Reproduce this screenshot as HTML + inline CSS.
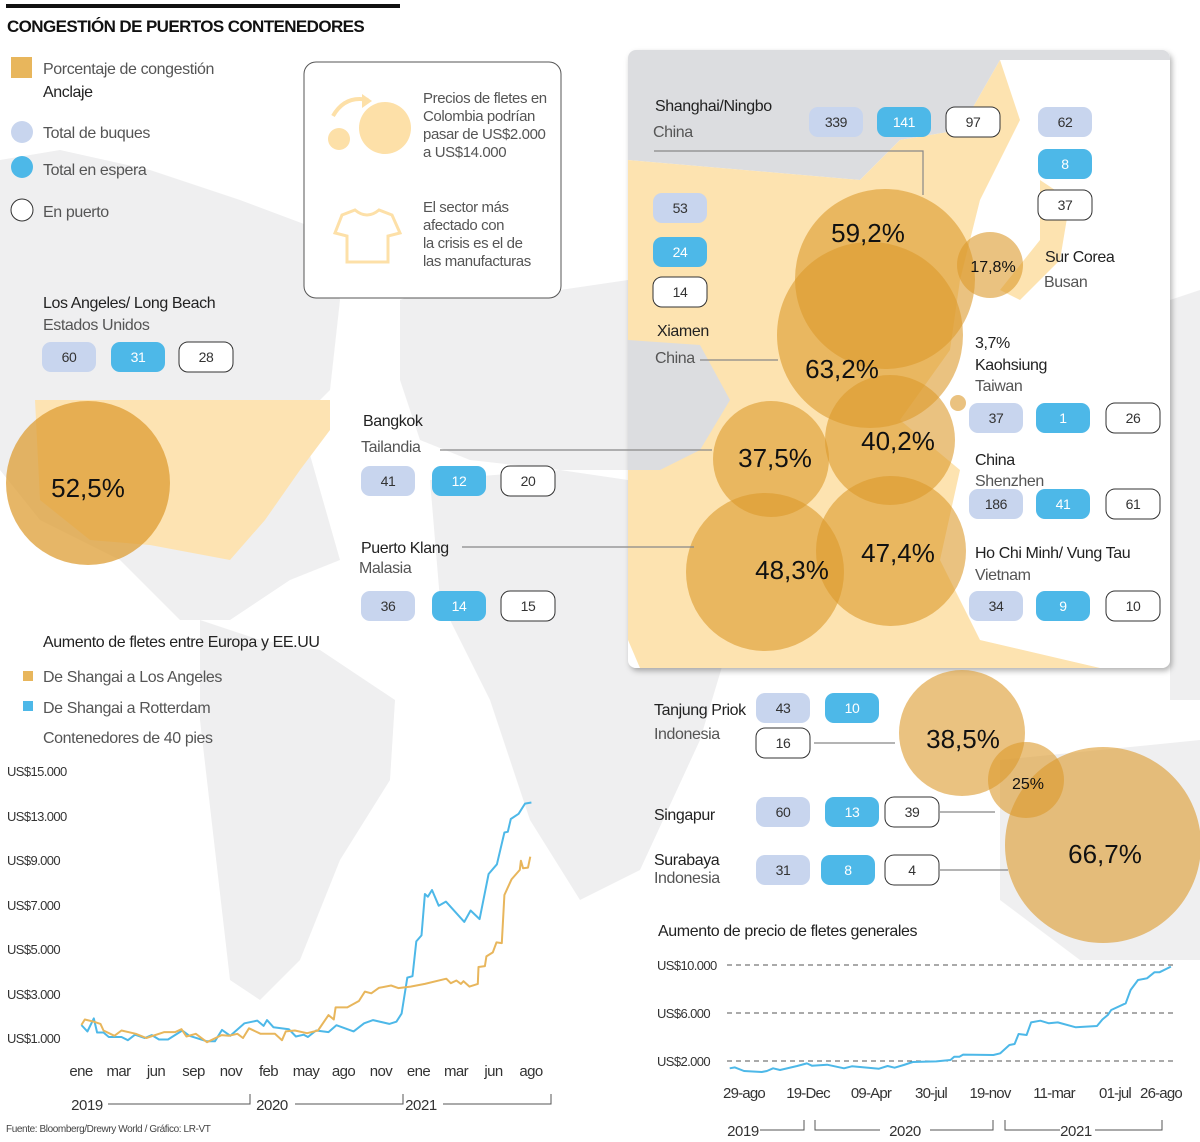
<!DOCTYPE html>
<html><head><meta charset="utf-8">
<style>
html,body{margin:0;padding:0;background:#fff;}
svg{display:block;}
text{font-family:"Liberation Sans",sans-serif;letter-spacing:-0.4px;}
.t{font-size:16px;fill:#222;}
.s{font-size:16px;fill:#555;}
.pct{font-family:"Liberation Sans",sans-serif;font-size:26px;fill:#111;letter-spacing:0;}
.bt{font-size:14px;text-anchor:middle;}
.ax{font-size:13px;fill:#333;letter-spacing:-0.6px;}
</style></head>
<body>
<svg id="svg" width="1200" height="1142" viewBox="0 0 1200 1142" xmlns="http://www.w3.org/2000/svg">
<g fill="#efeff0">
  <path d="M0,160 L60,150 L150,170 L240,200 L320,230 L340,300 L330,390 L300,420 L340,560 L290,580 L230,620 L180,620 L120,560 L40,520 L0,470 Z"/>
  <path d="M200,620 L260,640 L320,650 L395,700 L390,780 L340,860 L300,960 L260,1000 L230,980 L215,850 L200,720 Z"/>
  <path d="M400,300 L480,270 L560,290 L628,280 L628,470 L560,470 L470,460 L420,440 L400,380 Z"/>
  <path d="M430,480 L560,470 L628,480 L700,540 L730,640 L700,740 L640,870 L580,900 L530,820 L490,700 L440,600 Z"/>
  <path d="M1000,760 L1200,740 L1200,960 L1080,960 L1000,900 Z"/>
  <path d="M1170,300 L1200,290 L1200,700 L1170,700 Z"/>
</g>
<path d="M35,400 L330,400 L330,430 L300,470 L265,520 L230,560 L150,545 L90,540 L40,500 Z" fill="#fde3b2"/>

<rect x="6" y="4" width="394" height="4" fill="#111"/>
<text x="7" y="32" style="font-family:'Liberation Sans',sans-serif;font-size:17px;font-weight:bold;fill:#111;letter-spacing:-0.6px">CONGESTIÓN DE PUERTOS CONTENEDORES</text>
<g>
  <rect x="11" y="57" width="21" height="21" fill="#e8b65c"/>
  <text x="43" y="74" class="s">Porcentaje de congestión</text>
  <text x="43" y="97" class="t">Anclaje</text>
  <circle cx="22" cy="132" r="11" fill="#c8d5ee"/>
  <text x="43" y="138" class="s">Total de buques</text>
  <circle cx="22" cy="167" r="11" fill="#4db8e8"/>
  <text x="43" y="175" class="s">Total en espera</text>
  <circle cx="22" cy="210" r="11" fill="#fff" stroke="#333"/>
  <text x="43" y="217" class="s">En puerto</text>
</g>
<g>
  <rect x="304" y="62" width="257" height="236" rx="12" fill="#fff" stroke="#555" stroke-width="1"/>
  <circle cx="385" cy="128" r="26" fill="#fde0a8"/>
  <circle cx="339" cy="139" r="11" fill="#fde0a8"/>
  <path d="M333,116 Q345,95 368,100" stroke="#fde0a8" stroke-width="4" fill="none"/>
  <path d="M362,94 L372,101 L362,108 Z" fill="#fde0a8"/>
  <text x="423" y="103" class="s" style="font-size:15px"><tspan x="423">Precios de fletes en</tspan><tspan x="423" dy="18">Colombia podrían</tspan><tspan x="423" dy="18">pasar de US$2.000</tspan><tspan x="423" dy="18">a US$14.000</tspan></text>
  <path d="M342,215 L355,210 Q367,220 379,210 L392,215 L400,233 L388,236 L388,262 L347,262 L347,236 L335,233 Z" fill="none" stroke="#fde0a8" stroke-width="3"/>
  <text x="423" y="212" class="s" style="font-size:15px"><tspan x="423">El sector más</tspan><tspan x="423" dy="18">afectado con</tspan><tspan x="423" dy="18">la crisis  es el de</tspan><tspan x="423" dy="18">las manufacturas</tspan></text>
</g>

<defs><filter id="sh" x="-5%" y="-5%" width="110%" height="110%"><feDropShadow dx="2" dy="3" stdDeviation="3" flood-opacity="0.3"/></filter>
<clipPath id="ic"><rect x="628" y="50" width="542" height="618" rx="8"/></clipPath></defs>
<rect x="628" y="50" width="542" height="618" rx="8" fill="#fff" filter="url(#sh)"/>
<g clip-path="url(#ic)">
  <path d="M628,50 L1170,50 L1170,60 L1000,60 L960,130 L900,140 L860,180 L628,160 Z" fill="#dcdde0"/>
  <path d="M628,160 L860,180 L900,140 L960,130 L1000,60 L1020,120 L980,200 L960,280 L950,350 L900,420 L960,470 L940,560 L980,640 L1100,668 L640,668 L628,640 Z" fill="#fde3b0"/>
  <path d="M628,340 L700,345 L730,400 L700,450 L660,470 L628,470 Z" fill="#dcdde0"/>
  <path d="M1040,180 L1070,200 L1060,260 L1020,300 L1000,290 L1040,240 Z" fill="#fde3b0"/>
</g>

<g id="bubbles"></g>
<g id="leaders" stroke="#888" stroke-width="1.2" fill="none">
  <path d="M440,450 L712,450"/>
  <path d="M462,547 L694,547"/>
  <path d="M654,151 L923,151 L923,195"/>
  <path d="M700,360 L778,360"/>
  <path d="M814,743 L895,743"/>
  <path d="M940,812 L995,812"/>
  <path d="M940,870 L1008,870"/>
</g>
<g id="badges"></g>

<g>
  <text x="43" y="308" class="t">Los Angeles/ Long Beach</text>
  <text x="43" y="330" class="s">Estados Unidos</text>
  <text x="363" y="426" class="t">Bangkok</text>
  <text x="361" y="452" class="s">Tailandia</text>
  <text x="361" y="553" class="t">Puerto Klang</text>
  <text x="359" y="573" class="s">Malasia</text>
  <text x="655" y="111" class="t">Shanghai/Ningbo</text>
  <text x="653" y="137" class="s">China</text>
  <text x="657" y="336" class="t">Xiamen</text>
  <text x="655" y="363" class="s">China</text>
  <text x="1045" y="262" class="t">Sur Corea</text>
  <text x="1044" y="287" class="s">Busan</text>
  <text x="975" y="348" class="t">3,7%</text>
  <text x="975" y="370" class="t">Kaohsiung</text>
  <text x="975" y="391" class="s">Taiwan</text>
  <text x="975" y="465" class="t">China</text>
  <text x="975" y="486" class="s">Shenzhen</text>
  <text x="975" y="558" class="t">Ho Chi Minh/ Vung Tau</text>
  <text x="975" y="580" class="s">Vietnam</text>
  <text x="654" y="715" class="t">Tanjung Priok</text>
  <text x="654" y="739" class="s">Indonesia</text>
  <text x="654" y="820" class="t">Singapur</text>
  <text x="654" y="865" class="t">Surabaya</text>
  <text x="654" y="883" class="s">Indonesia</text>
</g>

<g>
  <text x="43" y="647" class="t">Aumento de fletes entre Europa y EE.UU</text>
  <rect x="23" y="671" width="10" height="10" fill="#e8b65c"/>
  <text x="43" y="682" class="s">De Shangai a Los Angeles</text>
  <rect x="23" y="701" width="10" height="10" fill="#4db8e8"/>
  <text x="43" y="713" class="s">De Shangai a Rotterdam</text>
  <text x="43" y="743" class="s">Contenedores de 40 pies</text>
</g>
<g id="lc"></g>
<g id="rc"></g>
<text x="658" y="936" class="t">Aumento de precio de fletes generales</text>
<text x="6" y="1132" style="font-size:10px;fill:#444">Fuente: Bloomberg/Drewry World / Gráfico: LR-VT</text>
</svg>
<script>
// ---- left chart data ----
const lcYTicks=[1000,3000,5000,7000,9000,13000,15000];
const lcYTickLabels=["US$1.000","US$3.000","US$5.000","US$7.000","US$9.000","US$13.000","US$15.000"];
const lcXLabels=["ene","mar","jun","sep","nov","feb","may","ago","nov","ene","mar","jun","ago"];
const rotT=[0.01,0.17,0.34,0.43,0.60,0.74,1.08,1.25,1.44,1.70,1.89,2.08,2.32,2.70,2.89,3.36,3.57,3.76,3.98,4.36,4.70,4.87,4.96,5.13,5.54,5.73,5.94,6.05,6.27,6.60,6.81,7.27,7.55,7.79,8.22,8.41,8.55,8.70,8.84,8.94,9.08,9.17,9.25,9.36,9.54,9.73,10.22,10.39,10.63,10.87,11.09,11.29,11.38,11.46,11.67,11.84,12.01];
const rotV=[1593,1296,1889,1252,1252,1044,1044,900,1150,1000,1130,930,930,1340,1100,850,850,1370,1100,1670,1790,1550,1815,1490,1400,1070,1150,1044,1340,1270,1580,1300,1670,1815,1640,1740,2110,3727,3790,5346,5616,7489,7370,7667,6970,7150,6230,6750,6360,8378,8808,11500,11560,12730,13100,13550,13600];
const laT=[0.01,0.10,0.34,0.52,0.60,0.89,1.08,1.46,1.74,2.22,2.51,2.68,2.81,3.06,3.36,3.75,3.94,4.17,4.32,4.48,4.79,5.17,5.36,5.46,5.70,6.03,6.32,6.60,6.74,6.79,7.10,7.41,7.57,7.74,7.94,8.27,8.46,8.79,9.17,9.74,9.86,10.01,10.13,10.20,10.36,10.58,10.60,10.77,10.81,10.98,11.08,11.22,11.29,11.48,11.70,11.73,11.79,11.92,11.98];
const laV=[1593,1840,1740,1640,1340,1100,1340,1190,1000,1270,1270,1400,1070,1190,810,1130,1100,1190,1000,1440,1190,1190,900,1300,1340,1220,1340,2040,1840,2390,2390,2680,3106,3030,3270,3380,3260,3330,3450,3680,3480,3600,3450,3570,3330,3450,4200,4240,4670,4850,5300,5270,7444,8140,8560,8970,8630,8660,9300];
// ---- right chart data ----
const rcYTicks=[2000,6000,10000];
const rcYTickLabels=["US$2.000","US$6.000","US$10.000"];
const rcXDays=[0,112,224,336,448,560,672,728];
const rcXLabels=["29-ago","19-Dec","09-Apr","30-jul","19-nov","11-mar","01-jul","26-ago"];
const genD=[-25,-16,0,31,40,51,63,93,110,119,146,176,190,239,255,268,285,302,346,373,380,390,397,454,466,482,491,498,512,520,536,551,567,600,639,649,659,665,685,691,700,711,720,726,740];
const genV=[1390,1470,1170,1080,1170,1390,1250,1580,1800,1610,1690,1390,1560,1360,1580,1440,1670,1920,1970,2080,2360,2360,2530,2500,2640,3330,3420,4250,4170,5220,5360,5140,5220,4810,4920,5470,5840,6250,6810,7920,8750,8890,9390,9390,9870];
// ---- map bubbles ----
const bubbleLabels=["52,5%","59,2%","63,2%","17,8%","37,5%","40,2%","48,3%","47,4%","","38,5%","25%","66,7%"];

const NS="http://www.w3.org/2000/svg";
function mk(tag,attrs,parent){const e=document.createElementNS(NS,tag);for(const k in attrs)e.setAttribute(k,attrs[k]);parent.appendChild(e);return e;}

const lcTickY=[1038,994,949,905,860,816,771];
function lcY(v){for(let i=0;i<lcYTicks.length-1;i++){if(v<=lcYTicks[i+1]||i===lcYTicks.length-2){const f=(v-lcYTicks[i])/(lcYTicks[i+1]-lcYTicks[i]);return lcTickY[i]+f*(lcTickY[i+1]-lcTickY[i]);}}}
function lcX(t){return 81+t*37.5;}
const lc=document.getElementById('lc');
lcYTickLabels.forEach((l,i)=>{const e=mk('text',{x:7,y:lcTickY[i]+5,class:'ax'},lc);e.textContent=l;

});
lcXLabels.forEach((l,i)=>{const e=mk('text',{x:lcX(i),y:1076,class:'ax','text-anchor':'middle'},lc);e.style.fontSize='15px';e.textContent=l;

});
[["2019",87,108,250],["2020",272,295,403],["2021",421,443,551]].forEach(a=>{const e=mk('text',{x:a[1],y:1110,'text-anchor':'middle'},lc);e.style.fontSize='15px';e.style.fill='#333';e.textContent=a[0];


const p=mk('path',{d:`M${a[2]},1104 L${a[3]},1104 L${a[3]},1094`,stroke:'#555',fill:'none'},lc);

});
function poly(T,V,fx,fy){return T.map((t,i)=>(i?'L':'M')+fx(t).toFixed(1)+','+fy(V[i]).toFixed(1)).join(' ');}
const l1=mk('path',{d:poly(rotT,rotV,lcX,lcY),stroke:'#4db8e8','stroke-width':2,fill:'none','stroke-linejoin':'round'},lc);


const l2=mk('path',{d:poly(laT,laV,lcX,lcY),stroke:'#e8b65c','stroke-width':2,fill:'none','stroke-linejoin':'round'},lc);



const rcXPos=[744,808,871,931,990,1054,1115,1161];
function rcX(d){if(d<=rcXDays[0])return rcXPos[0]+(d-rcXDays[0])*(rcXPos[1]-rcXPos[0])/(rcXDays[1]-rcXDays[0]);
for(let i=0;i<rcXDays.length-1;i++){if(d<=rcXDays[i+1]||i===rcXDays.length-2){const f=(d-rcXDays[i])/(rcXDays[i+1]-rcXDays[i]);return rcXPos[i]+f*(rcXPos[i+1]-rcXPos[i]);}}}
function rcY(v){return 1061-(v-2000)*(48/4000);}
const rc=document.getElementById('rc');
rcYTicks.forEach((v,i)=>{const g=mk('line',{x1:727,x2:1175,y1:rcY(v),y2:rcY(v),stroke:'#555','stroke-dasharray':'5,4'},rc);


const e=mk('text',{x:657,y:rcY(v)+5,class:'ax'},rc);e.textContent=rcYTickLabels[i];

});
rcXLabels.forEach((l,i)=>{const e=mk('text',{x:rcX(rcXDays[i]),y:1098,'text-anchor':'middle'},rc);e.style.fontSize='15px';e.style.letterSpacing='-0.8px';e.style.fill='#333';e.textContent=l;

});
[["2019",743,"M760,1130 L804,1130 L804,1120"],["2020",905,"M815,1120 L815,1130 L880,1130 M930,1130 L993,1130 L993,1120"],["2021",1076,"M1005,1120 L1005,1130 L1060,1130 M1095,1130 L1162,1130 L1162,1120"]].forEach(a=>{
const e=mk('text',{x:a[1],y:1136,'text-anchor':'middle'},rc);e.style.fontSize='15px';e.style.fill='#333';e.textContent=a[0];


const p=mk('path',{d:a[2],stroke:'#555',fill:'none'},rc);

});
const l3=mk('path',{d:poly(genD,genV,rcX,rcY),stroke:'#4db8e8','stroke-width':2,fill:'none','stroke-linejoin':'round'},rc);



const bubbleGeo=[[88,483,82,88,497],[885,279,90,868,242],[870,335,93,842,378],[990,265,33,993,272],[771,459,58,775,467],[890,440,65,898,450],[765,572,79,792,579],[891,551,75,898,562],[958,403,8,0,0],[962,733,63,963,748],[1026,780,38,1028,789],[1103,845,98,1105,863]];
const bg=document.getElementById('bubbles');
bubbleGeo.forEach((g,i)=>{const c=mk('circle',{cx:g[0],cy:g[1],r:g[2],fill:'#dc9a2c','fill-opacity':i===0?0.72:0.6},bg);

});
bubbleGeo.forEach((g,i)=>{if(!bubbleLabels[i])return;const t=mk('text',{x:g[3],y:g[4],class:'pct','text-anchor':'middle'},bg);
if(g[2]<40)t.style.fontSize='16px';t.textContent=bubbleLabels[i];

});

const badgeVals=["60","31","28","41","12","20","36","14","15","339","141","97","62","8","37","53","24","14","37","1","26","186","41","61","34","9","10","43","10","16","60","13","39","31","8","4"];
const badgeKinds=[0,1,2,0,1,2,0,1,2,0,1,2,0,1,2,0,1,2,0,1,2,0,1,2,0,1,2,0,1,2,0,1,2,0,1,2];
const badgePos=[[69,357],[138,357],[206,357],[388,481],[459,481],[528,481],[388,606],[459,606],[528,606],[836,122],[904,122],[973,122],[1065,122],[1065,164],[1065,205],[680,208],[680,252],[680,292],[996,418],[1063,418],[1133,418],[996,504],[1063,504],[1133,504],[996,606],[1063,606],[1133,606],[783,708],[852,708],[783,743],[783,812],[852,812],[912,812],[783,870],[848,870],[912,870]];
const bd=document.getElementById('badges');
const fills=['#c8d5ee','#4db8e8','#fff'],tcol=['#333','#fff','#333'];
badgeVals.forEach((v,i)=>{const [x,y]=badgePos[i],k=badgeKinds[i];
const r=mk('rect',{x:x-27,y:y-15,width:54,height:30,rx:9,fill:fills[k],stroke:k===2?'#333':'none'},bd);


const t=mk('text',{x:x,y:y+5,class:'bt',fill:tcol[k]},bd);t.textContent=v;

});
</script>
</body></html>
